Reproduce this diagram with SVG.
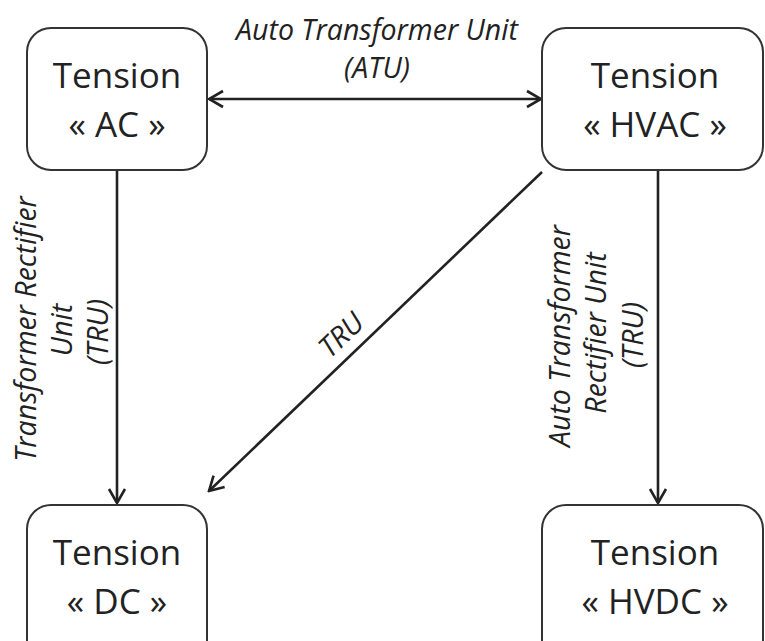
<svg xmlns="http://www.w3.org/2000/svg" width="765" height="641" viewBox="0 0 765 641">
<style>
.box{fill:#fff;stroke:#333;stroke-width:2}
.nt{font-family:"Open Sans",sans-serif;font-size:35px;fill:#222;text-anchor:middle}
.lb{font-family:"Open Sans",sans-serif;font-style:italic;font-size:28.5px;fill:#222;text-anchor:middle}
.ln{fill:none;stroke:#222;stroke-width:2.6}
</style>
<defs>
<marker id="ah" viewBox="0 0 20 20" refX="18" refY="10" markerWidth="20" markerHeight="20" markerUnits="userSpaceOnUse" orient="auto-start-reverse">
<path d="M4,2 L18,10 L4,18" fill="none" stroke="#222" stroke-width="2.6"/>
</marker>
</defs>
<rect width="765" height="641" fill="#fff"/>
<g id="connectors">
<line class="ln" x1="209" y1="99" x2="541" y2="99" marker-start="url(#ah)" marker-end="url(#ah)"/>
<line class="ln" x1="117" y1="170" x2="117" y2="503" marker-end="url(#ah)"/>
<line class="ln" x1="658" y1="170" x2="658" y2="503" marker-end="url(#ah)"/>
<line class="ln" x1="542" y1="172" x2="209" y2="491" marker-end="url(#ah)"/>
<text class="lb" x="377" y="40">Auto Transformer Unit</text>
<text class="lb" x="377" y="78">(ATU)</text>
<text class="lb" transform="translate(36,329) rotate(-90)">Transformer Rectifier</text>
<text class="lb" transform="translate(72,330) rotate(-90)">Unit</text>
<text class="lb" transform="translate(108,332) rotate(-90)">(TRU)</text>
<text class="lb" transform="translate(570,336) rotate(-90)">Auto Transformer</text>
<text class="lb" transform="translate(606,333) rotate(-90)">Rectifier Unit</text>
<text class="lb" transform="translate(643,335) rotate(-90)">(TRU)</text>
<text class="lb" transform="translate(348,342) rotate(-43.8)">TRU</text>
</g>
<g id="node-ac">
<rect class="box" x="27" y="28" width="180" height="142" rx="24"/>
<text class="nt" x="117" y="88">Tension</text>
<text class="nt" x="117" y="137">« AC »</text>
</g>
<g id="node-hvac">
<rect class="box" x="542" y="28" width="221" height="142" rx="24"/>
<text class="nt" x="655" y="88">Tension</text>
<text class="nt" x="655" y="137">« HVAC »</text>
</g>
<g id="node-dc">
<rect class="box" x="27" y="505" width="180" height="160" rx="24"/>
<text class="nt" x="117" y="565">Tension</text>
<text class="nt" x="117" y="614">« DC »</text>
</g>
<g id="node-hvdc">
<rect class="box" x="542" y="505" width="221" height="160" rx="24"/>
<text class="nt" x="655" y="565">Tension</text>
<text class="nt" x="655" y="614">« HVDC »</text>
</g>
</svg>
